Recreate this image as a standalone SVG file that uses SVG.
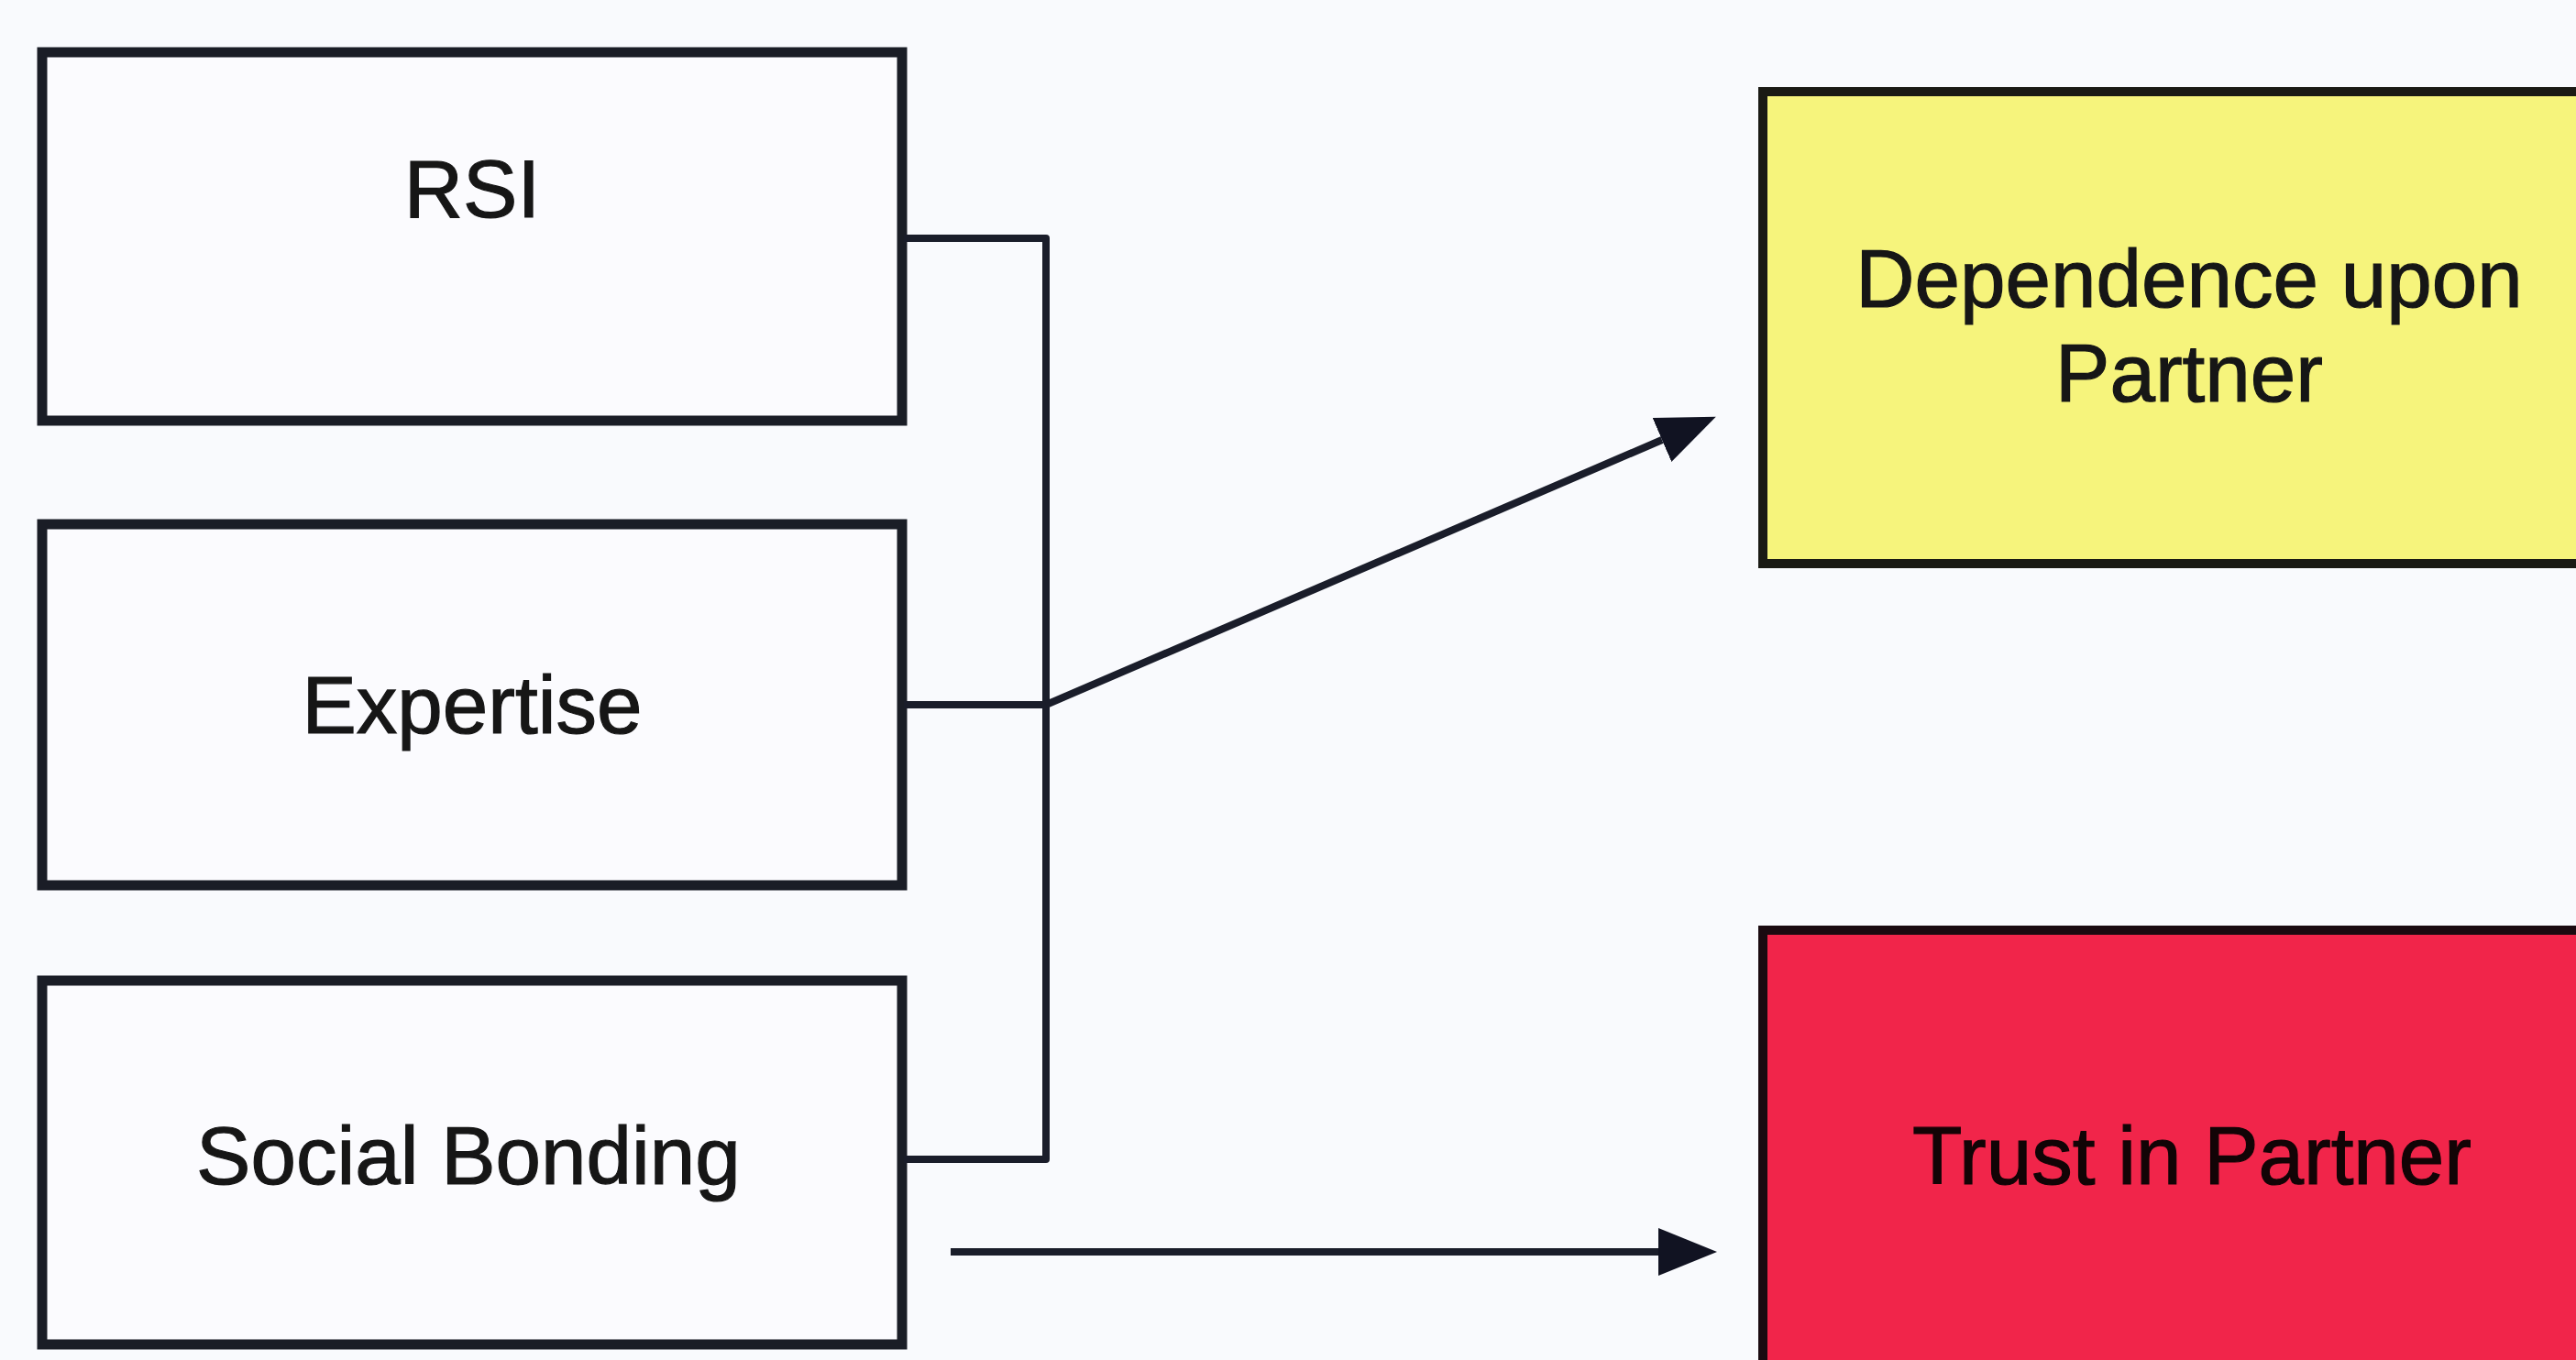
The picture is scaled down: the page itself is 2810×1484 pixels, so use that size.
<svg xmlns="http://www.w3.org/2000/svg" width="2810" height="1484" viewBox="0 0 2810 1484">
  <style>
    .box { fill: #fbfbfe; stroke: #1a1d26; stroke-width: 11; }
    .lbl { font-family: "Liberation Sans", Arial, sans-serif; font-size: 89px; fill: #161616; stroke: #161616; stroke-width: 1.2; text-anchor: middle; }
    .conn { fill: none; stroke: #1a1d2a; stroke-width: 8; stroke-linejoin: round; }
  </style>
  <defs>
    <marker id="arrow" markerUnits="userSpaceOnUse" markerWidth="66" markerHeight="54" refX="0" refY="26" orient="auto" viewBox="0 0 66 54">
      <path d="M0,0 L64,26 L0,52 z" fill="#111322"/>
    </marker>
  </defs>
  <rect x="0" y="0" width="2810" height="1484" fill="#f9fafd"/>

  <g id="node-rsi">
    <rect class="box" x="46" y="57" width="938" height="402"/>
    <text class="lbl" x="515" y="237">RSI</text>
  </g>
  <g id="node-expertise">
    <rect class="box" x="46" y="572" width="938" height="394"/>
    <text class="lbl" x="515" y="800">Expertise</text>
  </g>
  <g id="node-social-bonding">
    <rect class="box" x="46" y="1070" width="938" height="397"/>
    <text class="lbl" x="511" y="1292">Social Bonding</text>
  </g>
  <g id="node-dependence">
    <rect x="1923" y="100" width="960" height="515" fill="#f6f47c" stroke="#1a1a14" stroke-width="10"/>
    <text class="lbl" x="2388" y="335">Dependence upon</text>
    <text class="lbl" x="2388" y="438">Partner</text>
  </g>
  <g id="node-trust">
    <rect x="1923" y="1015" width="960" height="520" fill="#f1254a" stroke="#1a0a10" stroke-width="10"/>
    <text class="lbl" x="2391" y="1292" style="fill:#120406;stroke:#120406">Trust in Partner</text>
  </g>

  <g id="connectors">
    <path class="conn" d="M986,260 H1141 V1265 H986"/>
    <path class="conn" d="M986,769 H1141"/>
    <path class="conn" d="M1141,769 L1813,480" marker-end="url(#arrow)"/>
    <path class="conn" d="M1037,1366 H1809" marker-end="url(#arrow)"/>
  </g>
</svg>
